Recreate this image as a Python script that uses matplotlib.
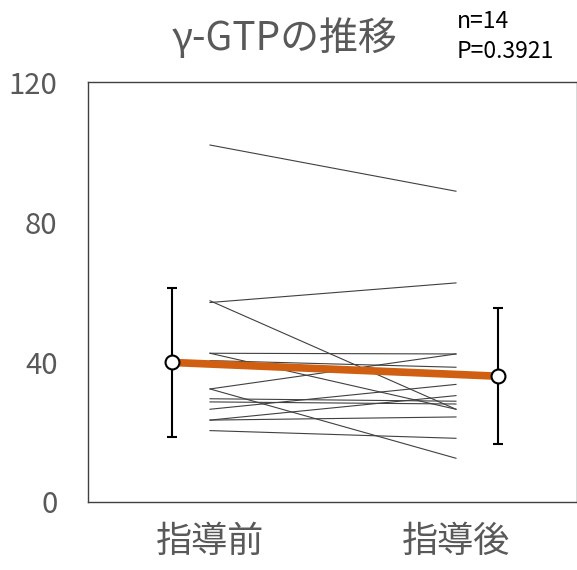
import numpy as np
import matplotlib
matplotlib.use("Agg")
import matplotlib.pyplot as plt

plt.rcParams['font.family'] = ['Noto Sans CJK JP', 'DejaVu Sans']

# paired values per subject
before = [102.0, 57.0, 57.5, 42.5, 42.5, 40.4, 32.3, 32.3, 29.5, 28.6, 26.5, 23.4, 23.4, 20.4]
after = [88.8, 62.6, 26.5, 42.3, 26.5, 38.5, 42.3, 12.5, 28.8, 28.0, 33.6, 30.4, 24.3, 18.2]
groups = ['指導前', '指導後']
title = 'γ-GTPの推移'
n_text = 'n=14'
p_text = 'P=0.3921'
yticks = [0, 40, 80, 120]

means = [np.mean(before), np.mean(after)]
sds = [np.std(before, ddof=1), np.std(after, ddof=1)]

fig = plt.figure(figsize=(5.77, 5.70), dpi=100)
ax = fig.add_axes([0.1525, 0.1193, 0.8475, 0.7368])

# individual subject lines
for b, a in zip(before, after):
    ax.plot([0, 1], [b, a], color='#404040', lw=0.8, zorder=2)

# mean line with SD error bars
mx = [-0.155, 1.17]
ax.plot(mx, means, color='#D05F12', lw=5.5, solid_capstyle='butt', zorder=3)
ax.errorbar(mx, means, yerr=sds, fmt='o', color='black', ecolor='black',
            elinewidth=1.5, capsize=3.5, capthick=1.5,
            markersize=10, markerfacecolor='white', markeredgecolor='black',
            markeredgewidth=1.5, zorder=4)

ax.set_xlim(-0.496, 1.492)
ax.set_ylim(0, 120)
ax.set_yticks(yticks)
ax.set_xticks([0, 1])
ax.set_xticklabels(groups)
ax.tick_params(axis='both', length=0, colors='#595959')
ax.tick_params(axis='y', labelsize=21, pad=22)
ax.tick_params(axis='x', labelsize=26, pad=16)
for s in ax.spines.values():
    s.set_color('#404040')
    s.set_linewidth(1.0)

fig.text(0.494, 0.933, title, ha='center', va='center', fontsize=28, color='#595959')
fig.text(0.792, 0.963, n_text, ha='left', va='center', fontsize=16.5, color='black')
fig.text(0.792, 0.910, p_text, ha='left', va='center', fontsize=16.5, color='black')

fig.savefig('out.png', dpi=100)
